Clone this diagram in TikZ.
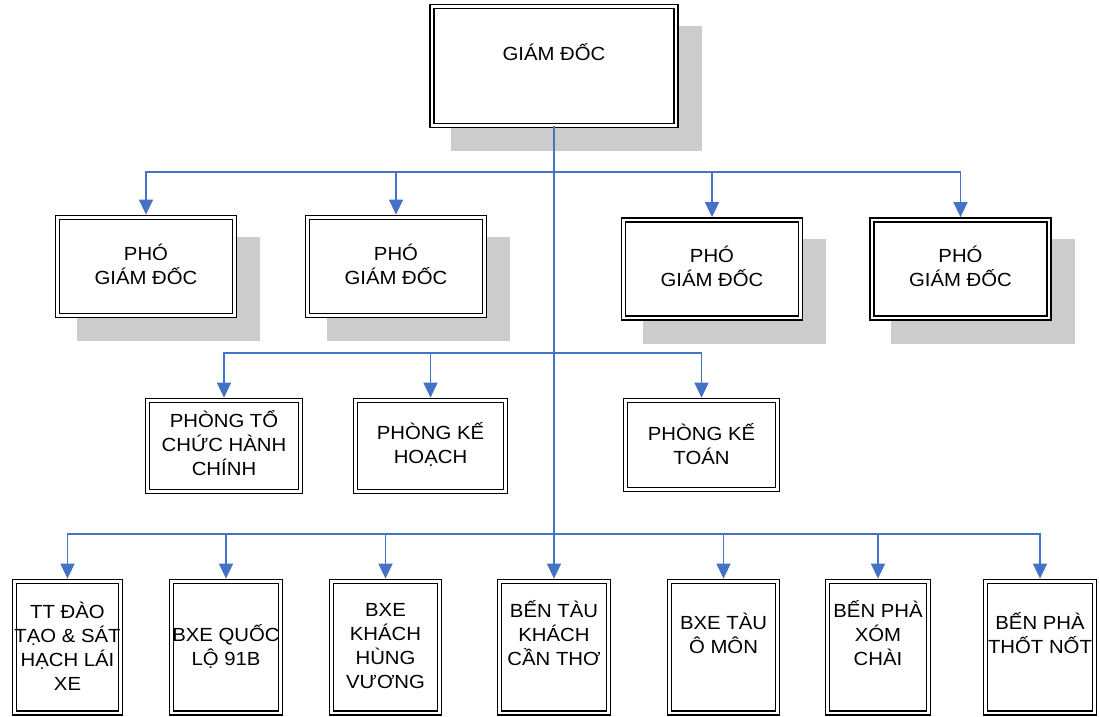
\documentclass[tikz,border=0pt]{standalone}
\usepackage{fontspec}
\setmainfont[FakeStretch=1.07]{Liberation Sans}
\usetikzlibrary{arrows.meta,calc,backgrounds}
\definecolor{linkblue}{RGB}{68,114,196}
\definecolor{shadowgray}{RGB}{204,204,204}
\tikzset{
  orgbox/.style={draw=black, double=white, double distance=2.5pt, line width=1.4pt,
    fill=white, inner sep=0pt},
  txt/.style={font=\fontsize{19}{24}\selectfont, align=center, text=black, inner sep=0pt},
  link/.style={draw=linkblue, line width=1.6pt},
  linkarrow/.style={link, -{Triangle[width=14pt,length=15pt]}, shorten >=2.2pt},
  shadowfill/.style={fill=shadowgray}
}
\newcommand\boxshadow[1]{\fill[shadowfill] ($(#1.north west)+(20,20)$) rectangle ($(#1.south east)+(25,25)$);}
\begin{document}
\begin{tikzpicture}[x=1pt,y=-1pt]
\useasboundingbox (0,0) rectangle (1099,716);
% top
\node[orgbox, minimum width=243.9pt, minimum height=118.9pt,
  label={[txt, yshift=14pt]center:{GIÁM ĐỐC}}] (gd) at (554,66) {};
% row 2
\foreach \n/\x/\y in {p1/146/266.5, p2/396/266.5, p3/712/269, p4/960.5/269}{
  \node[orgbox, minimum width=176.9pt, minimum height=98pt,
    label={[txt, yshift=2.5pt]center:{PHÓ\\GIÁM ĐỐC}}] (\n) at (\x,\y) {};
}
% row 3
\node[orgbox, minimum width=152.9pt, minimum height=90.9pt,
  label={[txt, yshift=3pt]center:{PHÒNG TỔ\\CHỨC HÀNH\\CHÍNH}}] (r1) at (224,446) {};
\node[orgbox, minimum width=149.9pt, minimum height=90.9pt,
  label={[txt, yshift=2pt]center:{PHÒNG KẾ\\HOẠCH}}] (r2) at (430.5,446) {};
\node[orgbox, minimum width=151.9pt, minimum height=88.9pt,
  label={[txt, yshift=0.5pt]center:{PHÒNG KẾ\\TOÁN}}] (r3) at (701.5,445) {};
% row 4
\node[orgbox, minimum width=105.9pt, minimum height=131.4pt,
  label={[txt, yshift=1pt]center:{TT ĐÀO\\TẠO \& SÁT\\HẠCH LÁI\\XE}}] (b1) at (67.5,647.2) {};
\node[orgbox, minimum width=108.9pt, minimum height=131.4pt,
  label={[txt, yshift=1pt]center:{BXE QUỐC\\LỘ 91B}}] (b2) at (226,647.2) {};
\node[orgbox, minimum width=107.9pt, minimum height=131.4pt,
  label={[txt, yshift=1pt]center:{BXE\\KHÁCH\\HÙNG\\VƯƠNG}}] (b3) at (385.5,647.2) {};
\node[orgbox, minimum width=108.9pt, minimum height=131.4pt,
  label={[txt, yshift=14pt]center:{BẾN TÀU\\KHÁCH\\CẦN THƠ}}] (b4) at (554,647.2) {};
\node[orgbox, minimum width=107.9pt, minimum height=131.4pt,
  label={[txt, yshift=14pt]center:{BXE TÀU\\Ô MÔN}}] (b5) at (723.5,647.2) {};
\node[orgbox, minimum width=100.9pt, minimum height=131.4pt,
  label={[txt, yshift=14pt]center:{BẾN PHÀ\\XÓM\\CHÀI}}] (b6) at (878,647.2) {};
\node[orgbox, minimum width=108.9pt, minimum height=131.4pt,
  label={[txt, yshift=14pt]center:{BẾN PHÀ\\THỐT NỐT}}] (b7) at (1040,647.2) {};
% shadows
\begin{scope}[on background layer]
  \boxshadow{gd}
  \boxshadow{p1}\boxshadow{p2}\boxshadow{p3}\boxshadow{p4}
\end{scope}
% junctions
\coordinate (j2) at (554,172);
\coordinate (j3) at (554,353);
\coordinate (j4) at (554,534);
% connectors
\draw[linkarrow] (gd.south) -- (b4.north);
\foreach \t in {p1,p2,p3,p4}{ \draw[linkarrow] (j2) -| (\t.north); }
\foreach \t in {r1,r2,r3}{ \draw[linkarrow] (j3) -| (\t.north); }
\foreach \t in {b1,b2,b3,b5,b6,b7}{ \draw[linkarrow] (j4) -| (\t.north); }
\end{tikzpicture}
\end{document}
